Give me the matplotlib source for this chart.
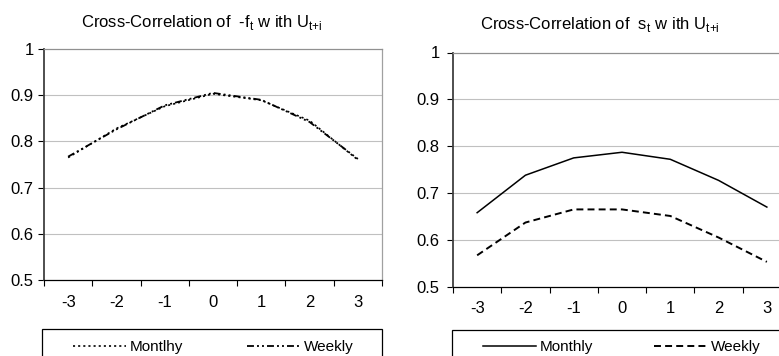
import matplotlib
matplotlib.use("Agg")
import matplotlib.pyplot as plt
from matplotlib.patches import Rectangle

plt.rcParams['font.family'] = ['Liberation Sans', 'DejaVu Sans']
plt.rcParams['mathtext.fontset'] = 'custom'
plt.rcParams['mathtext.rm'] = 'Liberation Sans'
plt.rcParams['lines.scale_dashes'] = False

# ---- data ----
lags = ["-3", "-2", "-1", "0", "1", "2", "3"]
f_monthly = [0.765, 0.828, 0.876, 0.903, 0.889, 0.845, 0.760]
f_weekly = [0.767, 0.826, 0.878, 0.905, 0.890, 0.842, 0.762]
s_monthly = [0.658, 0.738, 0.775, 0.787, 0.772, 0.727, 0.670]
s_weekly = [0.567, 0.637, 0.665, 0.665, 0.651, 0.605, 0.553]
yticks = [0.5, 0.6, 0.7, 0.8, 0.9, 1.0]
ytick_labels = ["0.5", "0.6", "0.7", "0.8", "0.9", "1"]

W, H = 779, 356
fig = plt.figure(figsize=(W / 100, H / 100), dpi=100)
FS_TICK = 12
FS_TITLE = 12
FS_LEG = 11


def px_axes(x0, x1, ytop, ybot):
    return fig.add_axes([x0 / W, 1 - ybot / H, (x1 - x0) / W, (ybot - ytop) / H])


def style(ax, ypad, xpad):
    n = len(lags)
    ax.set_xlim(-0.5, n - 0.5)
    ax.set_ylim(0.5, 1.0)
    ax.set_yticks(yticks)
    ax.set_yticklabels(ytick_labels, fontsize=FS_TICK)
    ax.set_xticks([i - 0.5 for i in range(n + 1)])
    ax.set_xticklabels([])
    ax.set_xticks(range(n), minor=True)
    ax.set_xticklabels(lags, minor=True, fontsize=FS_TICK)
    ax.tick_params(axis='x', which='major', direction='out', length=4, width=0.8, color='black')
    ax.tick_params(axis='x', which='minor', length=0, pad=xpad)
    ax.tick_params(axis='y', direction='out', length=4, width=0.8, color='black', pad=ypad)
    for y in yticks[1:-1]:
        ax.axhline(y, color='#c0c0c0', lw=0.8, zorder=0)
    ax.spines['left'].set_color('#404040')
    ax.spines['left'].set_linewidth(1.3)
    ax.spines['bottom'].set_color('black')
    ax.spines['bottom'].set_linewidth(0.9)
    ax.spines['top'].set_color('#909090')
    ax.spines['top'].set_linewidth(0.9)
    ax.spines['right'].set_color('#a0a0a0')
    ax.spines['right'].set_linewidth(0.9)


def legend_box(x0, x1, ytop, ybot, handles, labels, anchor_x, yc, colsp):
    fig.patches.append(Rectangle((x0 / W, 1 - ybot / H), (x1 - x0) / W, (ybot - ytop) / H,
                                 transform=fig.transFigure, fill=False, edgecolor='black',
                                 lw=0.9, clip_on=False))
    fig.legend(handles, labels, loc='center left', bbox_to_anchor=(anchor_x / W, 1 - yc / H),
               ncol=2, frameon=False, fontsize=FS_LEG, handlelength=3.5, handletextpad=0.2,
               columnspacing=colsp, borderpad=0, borderaxespad=0)


x = list(range(len(lags)))

# ---- left panel ----
ax1 = px_axes(44, 382, 49, 280)
style(ax1, 3.5, 11)
l1, = ax1.plot(x, f_monthly, color='black', lw=1.2, dashes=(1.5, 2.2))
l2, = ax1.plot(x, f_weekly, color='black', lw=1.3, dashes=(5, 2.2, 1.4, 2.2, 1.4, 2.2))
fig.text(202 / W, 1 - 22 / H,
         r"Cross-Correlation of  -f$_\mathregular{t}$ w ith U$_\mathregular{t{+}i}$",
         ha='center', va='center', fontsize=FS_TITLE)
legend_box(42, 382, 329, 366, [l1, l2], ["Montlhy", "Weekly"], 73, 347, 4.2)

# ---- right panel ----
ax2 = px_axes(453, 791, 52.5, 286.7)
style(ax2, 5.5, 10)
r1, = ax2.plot(x, s_monthly, color='black', lw=1.1)
r2, = ax2.plot(x, s_weekly, color='black', lw=1.4, dashes=(5, 3))
fig.text(600 / W, 1 - 24 / H,
         r"Cross-Correlation of  s$_\mathregular{t}$ w ith U$_\mathregular{t{+}i}$",
         ha='center', va='center', fontsize=FS_TITLE)
legend_box(452, 800, 330, 366, [r1, r2], ["Monthly", "Weekly"], 483, 347, 4.0)

fig.savefig("out.png", dpi=100)
